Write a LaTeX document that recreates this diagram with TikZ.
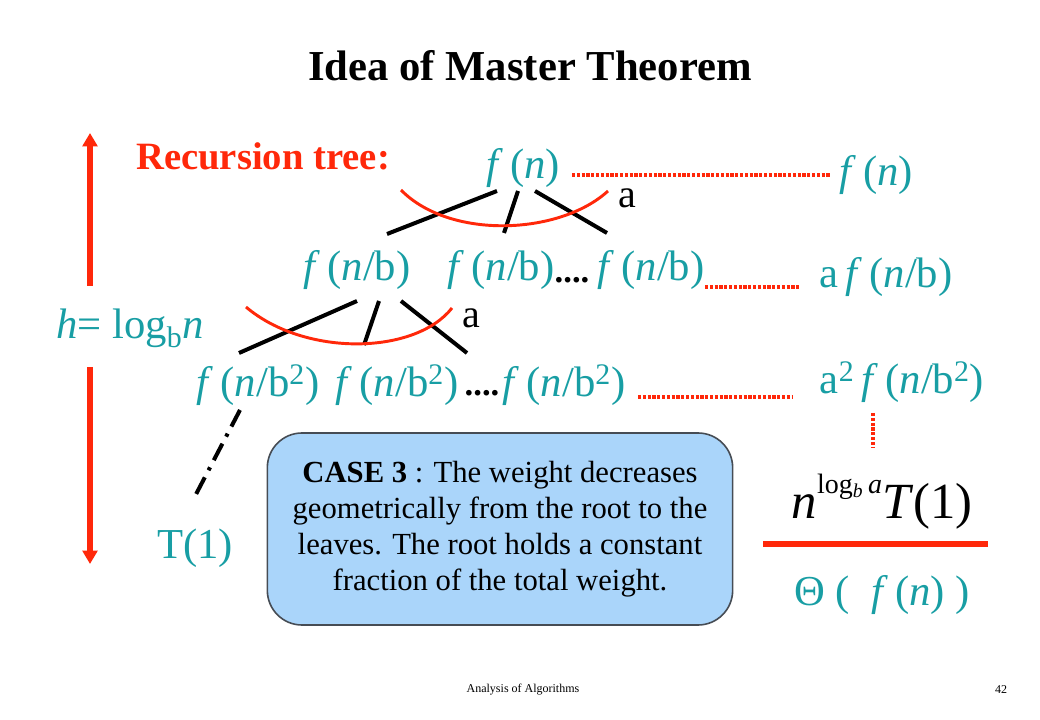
\documentclass[tikz,border=0pt]{standalone}
\usepackage{fontspec}
\setmainfont{Liberation Serif}
\usetikzlibrary{arrows.meta}
\definecolor{tealtxt}{RGB}{24,158,164}
\definecolor{redline}{RGB}{255,40,10}
\definecolor{boxfill}{RGB}{170,213,250}
\definecolor{boxedge}{RGB}{70,76,84}
\newcommand{\fof}[1]{\textit{f}\,(#1)}
\newcommand{\nb}{\textit{n}/b}
\newcommand{\nbb}{\textit{n}/b\textsuperscript{2}}
\begin{document}
\begin{tikzpicture}[x=0.75pt,y=-0.75pt,
  titletxt/.style={font=\fontsize{32}{36}\selectfont\bfseries},
  rectxt/.style={font=\fontsize{29}{32}\selectfont\bfseries,text=redline},
  lbl/.style={font=\fontsize{32}{36}\selectfont,text=tealtxt,inner sep=0pt},
  atxt/.style={font=\fontsize{30}{34}\selectfont,inner sep=0pt},
  dots/.style={font=\fontsize{26}{30}\selectfont\bfseries,inner sep=0pt},
  edge/.style={line width=3pt},
  arc/.style={line width=2.2pt,redline},
  dotline/.style={line width=3pt,redline,dash pattern=on 2.4pt off 1.2pt},
  harrow/.style={line width=4.5pt,redline,-{Triangle[width=11pt,length=10pt]}},
  casebox/.style={draw=boxedge,line width=1.2pt,fill=boxfill,rounded corners=26pt,
    minimum width=349pt,minimum height=144pt,align=center,
    font=\fontsize{23}{27}\selectfont}]
\useasboundingbox (0,0) rectangle (1040,720);
\node[titletxt] (title) at (530,66) {Idea of Master Theorem};
\node[rectxt] (rec) at (263,156) {Recursion tree:};
\draw[harrow] (90,286) -- (90,133);
\draw[harrow] (90,367) -- (90,564);
\node[lbl] (h) at (130,328) {\textit{h}= log\textsubscript{b}\textit{n}};
\node[lbl] (root) at (523,168) {\fof{\textit{n}}};
\draw[edge] (497,191) -- (387,234);
\draw[edge] (518,191) -- (504,233);
\draw[edge] (535,191) -- (607,233);
\draw[arc] (401,190) .. controls (450,240) and (560,235) .. (608,191);
\node[atxt] (a1) at (627,198) {a};
\node[lbl] (l2a) at (357,270) {\fof{\nb}};
\node[lbl] (l2b) at (501,270) {\fof{\nb}};
\node[dots] (d2) at (572,280) {....};
\node[lbl] (l2c) at (651,270) {\fof{\nb}};
\draw[edge] (357,301) -- (239,353);
\draw[edge] (379,301) -- (364,345);
\draw[edge] (401,301) -- (467,353);
\draw[arc] (246,307) .. controls (305,357) and (415,355) .. (452,308);
\node[atxt] (a2) at (471,318) {a};
\node[lbl] (l3a) at (258,385) {\fof{\nbb}};
\node[lbl] (l3b) at (397,385) {\fof{\nbb}};
\node[dots] (d3) at (482,393) {....};
\node[lbl] (l3c) at (564,385) {\fof{\nbb}};
\draw[edge,dash pattern=on 14pt off 6pt on 2.5pt off 6pt] (240,410) -- (193,500);
\node[lbl] (leaf) at (195,548) {T(1)};
\node[lbl] (r1) at (876,175) {\fof{\textit{n}}};
\node[lbl] (r2) at (886,277) {a\,\fof{\nb}};
\node[lbl] (r3) at (902,382) {a\textsuperscript{2}\,\fof{\nbb}};
\draw[dotline] (572,175) -- (830,175);
\draw[dotline] (705,287) -- (800,287);
\draw[dotline] (638,397) -- (793,397);
\draw[line width=3pt,redline,dash pattern=on 2.4pt off 1.2pt] (873,413) -- (873,448);
\node[font=\fontsize{38}{42}\selectfont,inner sep=0pt] (leafsum) at (882,502)
  {\textit{n}\raisebox{0.5em}{\fontsize{21}{24}\selectfont log\textsubscript{\textit{b}}\,\textit{a}}\textit{T}(1)};
\draw[line width=4.5pt,redline] (763,544) -- (988,544);
\node[lbl] (theta) at (882,595) {Θ\ (\ \ \fof{\textit{n}}\ )};
\node[casebox] (case) at (500,529) {\textbf{CASE 3} : The weight decreases\\
  geometrically from the root to the\\
  leaves. The root holds a constant\\
  fraction of the total weight.};
\node[font=\fontsize{9}{11}\selectfont] (foot) at (523,690) {Analysis of Algorithms};
\node[font=\fontsize{9}{11}\selectfont] (page) at (1001,690) {42};
\end{tikzpicture}
\end{document}
